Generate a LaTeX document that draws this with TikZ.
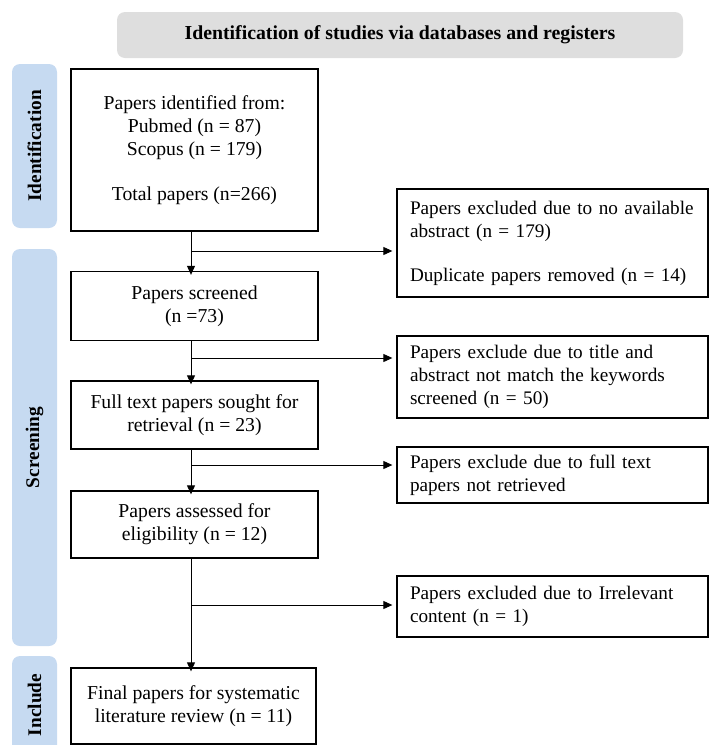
\documentclass[tikz,border=0pt]{standalone}
\usepackage{fontspec}
\setmainfont{Liberation Serif}
\usetikzlibrary{arrows.meta,calc}
\definecolor{sidebl}{HTML}{C6DAF1}
\definecolor{hdrgray}{HTML}{DEDEDE}
\begin{document}
\begin{tikzpicture}[x=1pt,y=-1pt,
  box/.style={draw=black, line width=1.3pt, fill=white, align=center, inner sep=0pt,
    font=\fontsize{19.7}{23}\selectfont},
  mainbox/.style={box, minimum width=247pt},
  sidebox/.style={box, minimum width=311pt, text width=285pt, align=left,
    font=\fontsize{19.2}{23}\selectfont},
  side/.style={fill=sidebl, rounded corners=8pt, draw=none},
  sidetext/.style={rotate=90, font=\bfseries\fontsize{19.3}{22}\selectfont},
  arr/.style={line width=0.9pt, -{Triangle[length=9pt,width=8pt]}},
  ln/.style={line width=0.9pt}]
\useasboundingbox (0,0) rectangle (710,745);
\clip (0,0) rectangle (710,745);
% header
\node[fill=hdrgray, rounded corners=8pt, minimum width=566pt, minimum height=46pt,
  font=\bfseries\fontsize{19.8}{22}\selectfont] (hdr) at (400,35)
  {Identification of studies via databases and registers};
% side bands
\node[side, minimum width=45pt, minimum height=164pt] (sid) at (34.5,146) {};
\node[sidetext] at (sid) {Identification};
\node[side, minimum width=45pt, minimum height=397pt] (sscr) at (34.5,447.5) {};
\node[sidetext] at (sscr) {Screening};
\node[side, minimum width=45pt, minimum height=110pt] (sinc) at (34.5,711) {};
\node[sidetext] at (34.5,705) {Include};
% main boxes
\node[mainbox, minimum height=162pt] (b1) at (194.5,150)
  {Papers identified from:\\Pubmed (n = 87)\\Scopus (n = 179)\\[22pt]Total papers (n=266)};
\node[mainbox, minimum height=69pt] (b2) at (194.5,306) {Papers screened\\(n =73)};
\node[mainbox, minimum height=68pt] (b3) at (194.5,415) {Full text papers sought for\\retrieval (n = 23)};
\node[mainbox, minimum height=67pt] (b4) at (194.5,524.5) {Papers assessed for\\eligibility (n = 12)};
\node[mainbox, minimum width=245pt, minimum height=76pt] (b5) at (193.5,706) {Final papers for systematic\\literature review (n = 11)};
% side boxes
\node[sidebox, minimum height=108pt] (r1) at (552.5,243)
  {Papers excluded due to no available\\abstract (n = 179)\\[21pt]Duplicate papers removed (n = 14)};
\node[sidebox, minimum height=82pt] (r2) at (552.5,377)
  {Papers exclude due to title and\\abstract not match the keywords\\screened (n = 50)};
\node[sidebox, minimum height=56pt] (r3) at (552.5,475)
  {Papers exclude due to full text\\papers not retrieved};
\node[sidebox, minimum height=61pt] (r4) at (552.5,606.5)
  {Papers excluded due to Irrelevant\\content (n = 1)};
% connectors
\coordinate (sp) at (191,0);
\draw[arr] (b1.south -| sp) -- ([yshift=-4pt]b2.north -| sp);
\draw[arr] (b2.south -| sp) -- ([yshift=-4pt]b3.north -| sp);
\draw[arr] (b3.south -| sp) -- ([yshift=-4pt]b4.north -| sp);
\draw[arr] (b4.south -| sp) -- ([yshift=-4pt]b5.north -| sp);
\coordinate (j1) at (191,251);
\coordinate (j2) at (191,358);
\coordinate (j3) at (191,465);
\coordinate (j4) at (191,605);
\draw[arr] (j1) -- ([xshift=-4pt]j1 -| r1.west);
\draw[arr] (j2) -- ([xshift=-4pt]j2 -| r2.west);
\draw[arr] (j3) -- ([xshift=-4pt]j3 -| r3.west);
\draw[arr] (j4) -- ([xshift=-4pt]j4 -| r4.west);
\end{tikzpicture}
\end{document}
